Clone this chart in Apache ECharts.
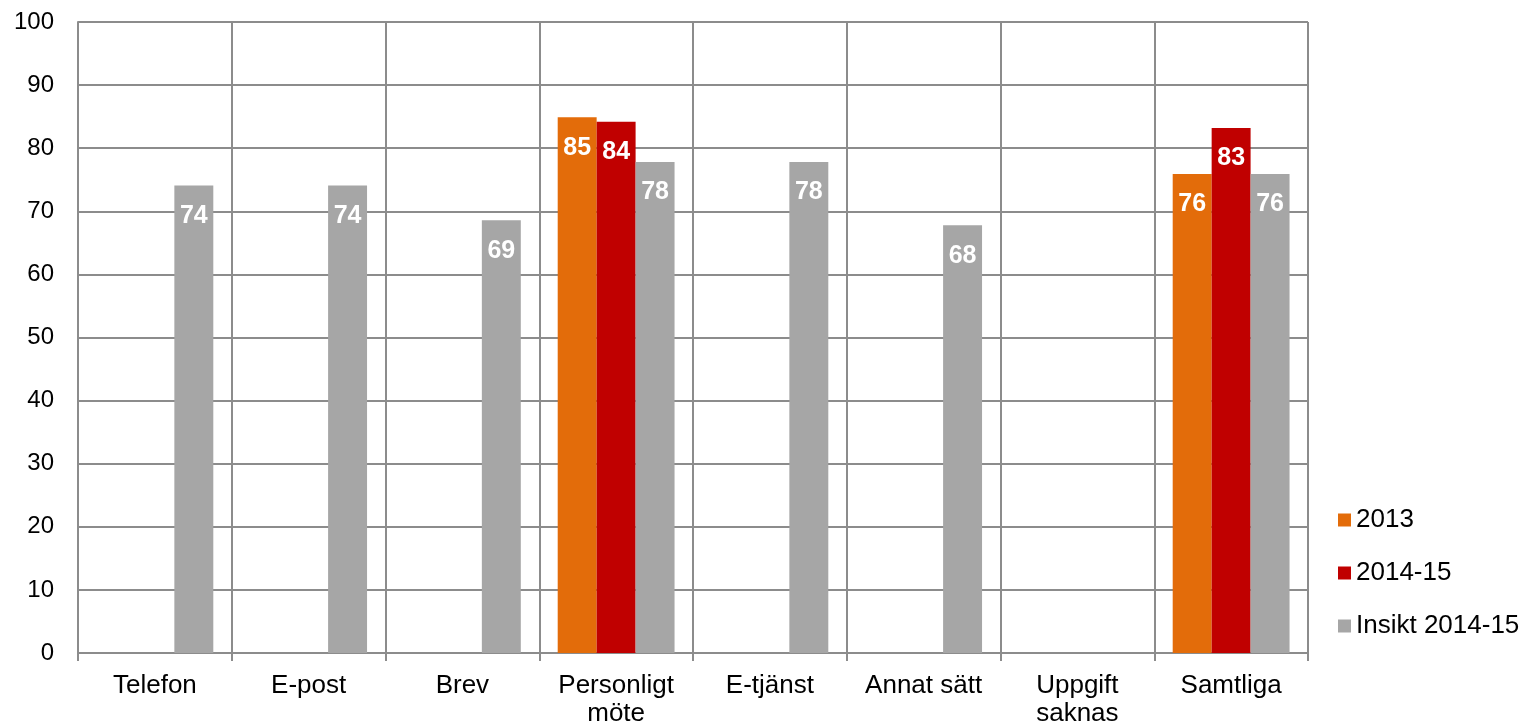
<!DOCTYPE html>
<html>
<head>
<meta charset="utf-8">
<script src="https://cdn.jsdelivr.net/npm/echarts@6/dist/echarts.min.js"></script>
<style>html,body{margin:0;padding:0;background:#fff;}#c{width:1528px;height:725px;}</style>
</head>
<body>
<div id="c"></div>
<script>
const categories = ['Telefon', 'E-post', 'Brev', 'Personligt\nmöte', 'E-tjänst', 'Annat sätt', 'Uppgift\nsaknas', 'Samtliga'];
const seriesNames = ['2013', '2014-15', 'Insikt 2014-15'];
const values2013 = [null, null, null, 84.9, null, null, null, 75.9];
const values2014 = [null, null, null, 84.2, null, null, null, 83.2];
const valuesInsikt = [74.1, 74.1, 68.6, 77.8, 77.8, 67.8, null, 75.9];
const yTicks = [0, 10, 20, 30, 40, 50, 60, 70, 80, 90, 100];
const colors = ['#E36C0A', '#C00000', '#A6A6A6'];

const font = 'Liberation Sans, Arial, sans-serif';
const chart = echarts.init(document.getElementById('c'), null, {renderer: 'canvas'});
function mk(name, data, color) {
  return {
    name: name, type: 'bar', data: data,
    barGap: '0%', barCategoryGap: '24%',
    itemStyle: {color: color},
    label: {
      show: true, position: 'insideTop', distance: 18,
      color: '#fff', fontWeight: 'bold', fontSize: 25, fontFamily: font,
      formatter: p => Math.round(p.value)
    }
  };
}
chart.setOption({
  animation: false,
  color: colors,
  grid: {left: 78, top: 22, width: 1230, height: 631, containLabel: false, outerBoundsMode: 'none'},
  legend: {
    orient: 'vertical', left: 1338, top: 507, itemGap: 27, padding: 0,
    itemWidth: 13, itemHeight: 13, icon: 'rect',
    textStyle: {fontSize: 26, lineHeight: 26, fontFamily: font, color: '#000'},
    data: seriesNames
  },
  xAxis: {
    type: 'category', data: categories,
    axisLine: {lineStyle: {color: '#8c8c8c', width: 2}},
    axisTick: {show: true, length: 8, lineStyle: {color: '#8c8c8c', width: 2}},
    splitLine: {show: true, lineStyle: {color: '#8c8c8c', width: 2}},
    axisLabel: {fontSize: 26, fontFamily: font, color: '#000', margin: 19, lineHeight: 28, interval: 0}
  },
  yAxis: {
    type: 'value', min: yTicks[0], max: yTicks[yTicks.length - 1], interval: 10,
    axisLine: {show: true, lineStyle: {color: '#8c8c8c', width: 2}},
    axisTick: {show: false},
    splitLine: {show: true, lineStyle: {color: '#8c8c8c', width: 2}},
    axisLabel: {fontSize: 24, fontFamily: font, color: '#000', margin: 24}
  },
  series: [mk(seriesNames[0], values2013, colors[0]), mk(seriesNames[1], values2014, colors[1]), mk(seriesNames[2], valuesInsikt, colors[2])]
});
</script>
</body>
</html>
